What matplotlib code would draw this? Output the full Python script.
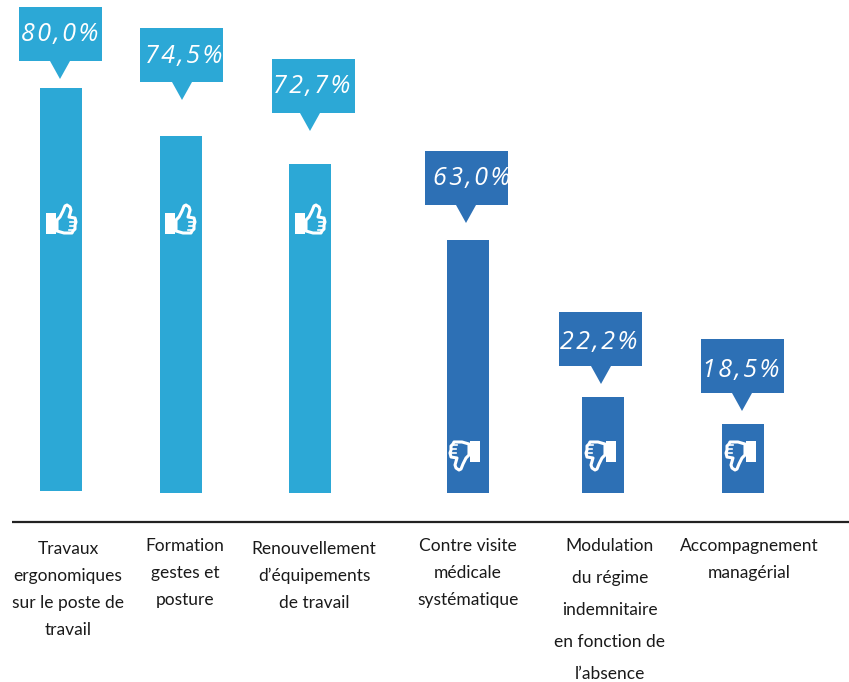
import matplotlib
matplotlib.use('Agg')
import matplotlib.pyplot as plt
from matplotlib.patches import Rectangle, Polygon, PathPatch
from matplotlib.path import Path

# data
categories = [
    ['Travaux', 'ergonomiques', 'sur le poste de', 'travail'],
    ['Formation', 'gestes et', 'posture'],
    ['Renouvellement', 'd’équipements', 'de travail'],
    ['Contre visite', 'médicale', 'systématique'],
    ['Modulation', 'du régime', 'indemnitaire', 'en fonction de', 'l’absence'],
    ['Accompagnement', 'managérial'],
]
labels = ['80,0%', '74,5%', '72,7%', '63,0%', '22,2%', '18,5%']
# drawn bar heights, they are not proportional to the labels
bar_heights = [403, 357, 329, 253, 96, 69]
thumbs = ['up', 'up', 'up', 'down', 'down', 'down']

# layout, in pixels of the picture
W, H = 849, 682
BASE = 493
bar_x = [61, 181, 310, 468, 603, 743]
bar_bottom = [2, 0, 0, 0, 0, 0]
bar_w = 42
box_x = [60.5, 181.5, 313.5, 466.5, 600.5, 742.5]
tip_x = [60, 182, 310, 466, 601, 742]
tip_y = [79, 100, 131, 223, 384, 411]
text_x = [59.5, 184, 311.5, 472, 599, 741]
text_dy = [28, 28, 28, 28, 31, 32]
icon_x = [61, 180, 310, 465, 601, 741]
label_x = [68, 185, 314, 468, 610, 749]
label_y = [549, 546, 549, 546, 546, 546]
line_gap = [27, 27, 27, 27, 32, 27]

light = '#2ca8d6'
dark = '#2d70b5'
colors = [light if t == 'up' else dark for t in thumbs]

fig = plt.figure(figsize=(W / 100, H / 100), dpi=100)
ax = fig.add_axes([0, 0, 1, 1])
ax.set_xlim(0, W)
ax.set_ylim(BASE - H, BASE)   # y = height above the bar baseline
ax.axis('off')


def py(p):
    return BASE - p


ax.bar(bar_x, bar_heights, width=bar_w, bottom=bar_bottom, color=colors, linewidth=0)

# callouts
for bx, tx, ty, ttx, dy, lab, c in zip(box_x, tip_x, tip_y, text_x, text_dy, labels, colors):
    top = ty - 72
    ax.add_patch(Rectangle((bx - 41.5, py(top + 54)), 83, 54, color=c, lw=0))
    ax.add_patch(Polygon([(tx - 10, py(top + 54)), (tx + 10, py(top + 54)), (tx, py(ty))],
                         color=c, lw=0))
    # letter spaced in the original
    ax.text(ttx, py(top + dy), '\u200a'.join(lab), color='white', fontsize=18, style='italic',
            family=['Open Sans', 'DejaVu Sans'], ha='center', va='center')

# thumb icon, offsets in pixels from its centre (y down, as in the picture)
cuff = [(-15, -6), (-5, -6), (-5, 15), (-15, 15)]
hand = [(-4, 1), (-1, -2), (2, -8), (4, -13), (6, -14), (9, -12), (10, -9), (8, -2),
        (14, -1), (15, 3), (14, 6), (14, 10), (12, 12), (11, 14), (3, 14), (-4, 12)]
notches = [((9, 3), (14, 3)), ((9, 7), (14, 7)), ((8, 11), (12, 11))]


def draw_thumb(cx, cy, up):
    s = 1 if up else -1
    def pt(o):
        return (cx + s * o[0], py(cy + s * o[1]))
    ax.add_patch(Polygon([pt(o) for o in cuff], color='white', lw=0, zorder=3))
    verts = [pt(o) for o in hand] + [pt(hand[0])]
    codes = [Path.MOVETO] + [Path.LINETO] * (len(hand) - 1) + [Path.CLOSEPOLY]
    ax.add_patch(PathPatch(Path(verts, codes), facecolor='none', edgecolor='white', lw=2.2,
                           joinstyle='round', zorder=3))
    for a, b in notches:
        ax.plot([pt(a)[0], pt(b)[0]], [pt(a)[1], pt(b)[1]], color='white', lw=1.2, zorder=3)


for ix, t in zip(icon_x, thumbs):
    draw_thumb(ix, 219 if t == 'up' else 456, t == 'up')

# axis line, two pieces in the original
ax.plot([12, 410], [py(522), py(522)], color='#222222', lw=1.6, solid_capstyle='butt')
ax.plot([410, 849], [py(522), py(522)], color='#222222', lw=1.6, solid_capstyle='butt')

# category labels
for lines, lx, ly, gap in zip(categories, label_x, label_y, line_gap):
    for i, line in enumerate(lines):
        ax.text(lx, py(ly + i * gap), line, color='#1a1a1a', fontsize=12.5, family='Lato',
                ha='center', va='center')

fig.savefig('out.png', dpi=100)
